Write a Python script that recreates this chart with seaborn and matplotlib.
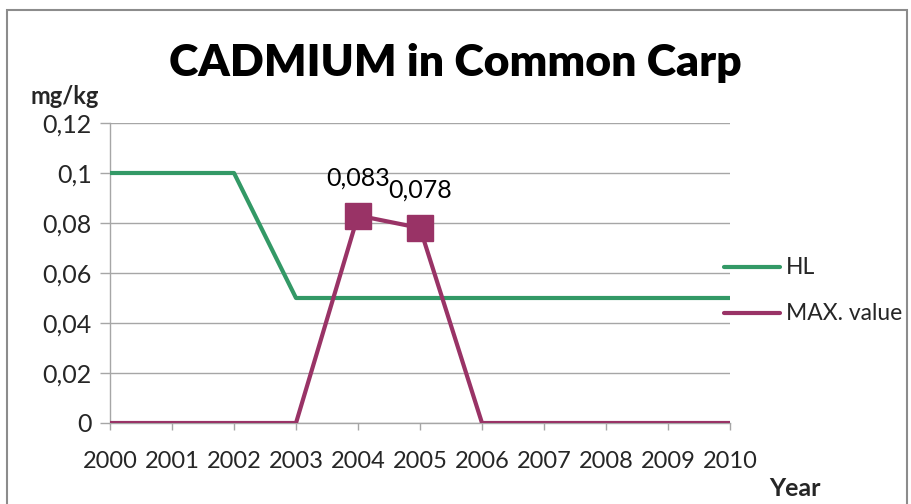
import matplotlib
matplotlib.use("Agg")
import matplotlib.pyplot as plt
import seaborn as sns
import pandas as pd
from matplotlib.patches import Rectangle

years = [2000, 2001, 2002, 2003, 2004, 2005, 2006, 2007, 2008, 2009, 2010]
hl_values = [0.1, 0.1, 0.1, 0.05, 0.05, 0.05, 0.05, 0.05, 0.05, 0.05, 0.05]
max_values = [0, 0, 0, 0, 0.083, 0.078, 0, 0, 0, 0, 0]
y_ticks = [0, 0.02, 0.04, 0.06, 0.08, 0.1, 0.12]
y_tick_labels = ["0", "0,02", "0,04", "0,06", "0,08", "0,1", "0,12"]
series_names = ["HL", "MAX. value"]
series_colors = ["#339966", "#993366"]

sns.set_style("white")
plt.rcParams["font.family"] = ["Lato", "DejaVu Sans"]

df = pd.DataFrame({
    "Year": years * 2,
    "Value": hl_values + max_values,
    "Series": [series_names[0]] * len(years) + [series_names[1]] * len(years),
})

fig = plt.figure(figsize=(9.11, 5.04), dpi=100)
ax = fig.add_axes([110 / 911, 81 / 504, 620 / 911, 300 / 504])

sns.lineplot(data=df, x="Year", y="Value", hue="Series",
             palette=dict(zip(series_names, series_colors)),
             linewidth=3.0, ax=ax, legend=False, zorder=3)

# square markers on the non-zero maxima, with value labels
for yr, v in zip(years, max_values):
    if v > 0:
        ax.plot(yr, v, marker="s", markersize=19, color=series_colors[1],
                zorder=4, linestyle="none")
        ax.annotate(f"{v:.3f}".replace(".", ","), (yr, v), xytext=(0, 19),
                    textcoords="offset points", ha="center", va="bottom",
                    fontsize=18, color="black")

ax.set_xlim(2000, 2010)
ax.set_ylim(0, 0.12)
ax.set_xticks(years)
ax.set_xticklabels([str(y) for y in years], fontsize=17)
ax.set_yticks(y_ticks)
ax.set_yticklabels(y_tick_labels, fontsize=18)
ax.set_xlabel("")
ax.set_ylabel("")
ax.grid(axis="y", color="#a6a6a6", linewidth=1.0)
ax.grid(axis="x", visible=False)
for side in ["top", "right"]:
    ax.spines[side].set_visible(False)
for side in ["left", "bottom"]:
    ax.spines[side].set_color("#a6a6a6")
    ax.spines[side].set_linewidth(1.0)
ax.tick_params(axis="y", length=7, width=1, color="#a6a6a6", pad=6, direction="out", left=True)
ax.tick_params(axis="x", length=5, width=1, color="#a6a6a6", pad=15, direction="out", bottom=True)
ax.set_axisbelow(True)

# title and axis captions
fig.text(455 / 911, 1 - 63 / 504, "CADMIUM in Common Carp", ha="center", va="center",
         fontsize=32, fontweight="heavy", color="black")
fig.text(65 / 911, 1 - 97 / 504, "mg/kg", ha="center", va="center",
         fontsize=17, fontweight="bold")
fig.text(795 / 911, 1 - 488 / 504, "Year", ha="center", va="center",
         fontsize=18, fontweight="bold")

# legend on the right
for i, (name, col) in enumerate(zip(series_names, series_colors)):
    y = 1 - (267 + 46 * i) / 504
    fig.add_artist(plt.Line2D([724 / 911, 780 / 911], [y, y], color=col,
                              linewidth=3.0, transform=fig.transFigure))
    fig.text(786 / 911, y, name, ha="left", va="center", fontsize=16.5)

# chart frame
fig.add_artist(Rectangle((7 / 911, -0.1), 900 / 911, 1.1 - 10 / 504,
                         transform=fig.transFigure, fill=False,
                         edgecolor="#8c8c8c", linewidth=1.5))

fig.savefig("out.png", dpi=100)
